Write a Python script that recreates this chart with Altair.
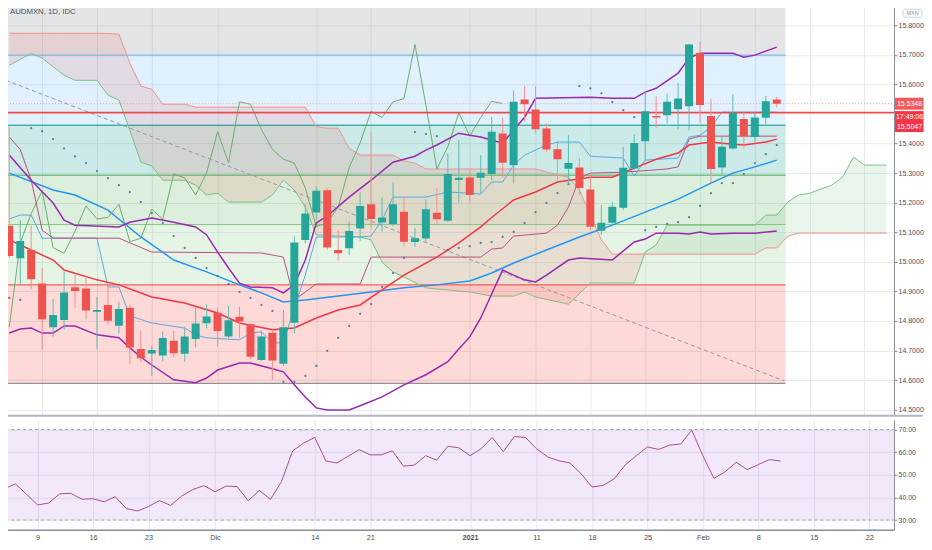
import altair as alt
import pandas as pd

# ---------------- data ----------------
bars = list(range(71))
opens = [15.122, 15.012, 15.040, 14.927, 14.779, 14.803, 14.914, 14.910, 14.831, 14.854,
         14.784, 14.845, 14.705, 14.690, 14.683, 14.733, 14.689, 14.739, 14.792, 14.828,
         14.747, 14.814, 14.789, 14.668, 14.760, 14.655, 14.794, 15.074, 15.167, 15.242,
         15.040, 15.046, 15.113, 15.195, 15.133, 15.128, 15.169, 15.067, 15.079, 15.166,
         15.139, 15.277, 15.285, 15.284, 15.297, 15.434, 15.327, 15.549, 15.515, 15.451,
         15.381, 15.315, 15.319, 15.245, 15.105, 15.132, 15.183, 15.316, 15.408, 15.493,
         15.496, 15.516, 15.526, 15.706, 15.493, 15.319, 15.383, 15.483, 15.422, 15.487,
         15.549]
highs = [15.455, 15.141, 15.122, 14.979, 14.874, 14.967, 14.955, 14.945, 14.882, 14.929,
         14.865, 14.856, 14.767, 14.716, 14.764, 14.766, 14.781, 14.848, 14.856, 14.845,
         14.851, 14.848, 14.792, 14.767, 14.770, 14.837, 15.088, 15.195, 15.256, 15.250,
         15.107, 15.138, 15.235, 15.440, 15.218, 15.269, 15.218, 15.115, 15.211, 15.250,
         15.367, 15.411, 15.312, 15.361, 15.490, 15.488, 15.580, 15.594, 15.594, 15.468,
         15.409, 15.428, 15.350, 15.301, 15.192, 15.203, 15.389, 15.432, 15.575, 15.560,
         15.569, 15.605, 15.738, 15.744, 15.552, 15.425, 15.567, 15.504, 15.504, 15.561,
         15.558]
lows = [15.013, 14.922, 14.908, 14.702, 14.747, 14.770, 14.843, 14.806, 14.704, 14.787,
        14.758, 14.654, 14.662, 14.614, 14.662, 14.677, 14.662, 14.711, 14.775, 14.713,
        14.742, 14.742, 14.671, 14.665, 14.601, 14.648, 14.758, 15.063, 15.141, 15.040,
        15.004, 15.023, 15.071, 15.113, 15.102, 15.121, 15.053, 15.051, 15.068, 15.124,
        15.136, 15.198, 15.198, 15.231, 15.276, 15.285, 15.265, 15.473, 15.434, 15.372,
        15.276, 15.265, 15.226, 15.107, 15.091, 15.119, 15.175, 15.310, 15.344, 15.453,
        15.468, 15.448, 15.445, 15.470, 15.267, 15.296, 15.378, 15.383, 15.406, 15.459,
        15.522]
closes = [15.020, 15.070, 14.941, 14.806, 14.820, 14.896, 14.901, 14.835, 14.837, 14.801,
          14.840, 14.710, 14.674, 14.702, 14.742, 14.691, 14.747, 14.791, 14.815, 14.766,
          14.802, 14.798, 14.679, 14.747, 14.666, 14.779, 15.065, 15.163, 15.240, 15.048,
          15.029, 15.104, 15.189, 15.145, 15.150, 15.195, 15.068, 15.080, 15.178, 15.144,
          15.297, 15.284, 15.226, 15.301, 15.440, 15.335, 15.541, 15.533, 15.448, 15.380,
          15.347, 15.334, 15.250, 15.119, 15.132, 15.186, 15.318, 15.402, 15.509, 15.488,
          15.541, 15.552, 15.735, 15.530, 15.314, 15.389, 15.504, 15.425, 15.488, 15.543,
          15.535]

# Ichimoku cloud (leading spans, plotted 26 bars ahead)
cloud_bars = list(range(81))
span_a = [15.665, 15.685, 15.705, 15.689, 15.660, 15.631, 15.614, 15.614, 15.614, 15.564,
          15.547, 15.445, 15.337, 15.324, 15.276, 15.276, 15.276, 15.259, 15.226, 15.232,
          15.202, 15.202, 15.202, 15.202, 15.226, 15.276, 15.243, 15.185, 15.091, 15.089,
          15.087, 15.086, 15.084, 15.074, 14.999, 14.966, 14.949, 14.930, 14.912, 14.908,
          14.905, 14.901, 14.898, 14.891, 14.884, 14.884, 14.884, 14.898, 14.881, 14.873,
          14.865, 14.857, 14.892, 14.928, 14.928, 14.928, 14.928, 14.928, 15.033, 15.057,
          15.124, 15.124, 15.124, 15.124, 15.124, 15.124, 15.124, 15.124, 15.124, 15.158,
          15.158, 15.202, 15.226, 15.232, 15.246, 15.259, 15.286, 15.354, 15.327, 15.327,
          15.327]
span_b = [15.773, 15.773, 15.773, 15.773, 15.773, 15.773, 15.773, 15.773, 15.773, 15.772,
          15.770, 15.672, 15.594, 15.584, 15.533, 15.533, 15.533, 15.523, 15.523, 15.523,
          15.523, 15.523, 15.523, 15.523, 15.523, 15.523, 15.523, 15.523, 15.457, 15.452,
          15.452, 15.384, 15.361, 15.361, 15.361, 15.361, 15.341, 15.334, 15.314, 15.314,
          15.314, 15.314, 15.314, 15.314, 15.314, 15.314, 15.314, 15.314, 15.314, 15.304,
          15.295, 15.286, 15.243, 15.158, 15.074, 15.026, 15.026, 15.026, 15.026, 15.026,
          15.026, 15.026, 15.026, 15.026, 15.026, 15.026, 15.026, 15.026, 15.026, 15.047,
          15.047, 15.087, 15.097, 15.097, 15.097, 15.097, 15.097, 15.097, 15.097, 15.097,
          15.097]

tenkan_bars = [0, 1, 2, 3, 8, 9, 10, 11, 13, 16, 17, 18, 21, 22, 23, 24, 25, 26, 27, 28,
               32, 33, 34, 35, 38, 40, 42, 43, 44, 45, 46, 47, 48, 49, 50, 52, 53, 56, 57, 58,
               61, 62, 63, 64, 65, 70]
tenkan_vals = [15.145, 15.158, 15.158, 15.080, 15.080, 14.915, 14.915, 14.817, 14.793, 14.776,
               14.753, 14.743, 14.736, 14.759, 14.763, 14.726, 14.726, 14.844, 14.955, 15.084,
               15.084, 15.087, 15.141, 15.219, 15.219, 15.236, 15.232, 15.229, 15.270, 15.270,
               15.327, 15.361, 15.378, 15.395, 15.405, 15.405, 15.357, 15.351, 15.290, 15.344,
               15.351, 15.422, 15.428, 15.455, 15.506, 15.506]
kijun_bars = [0, 1, 2, 3, 4, 10, 11, 13, 23, 24, 25, 26, 27, 28, 32, 33, 43, 44, 45, 46,
              49, 50, 51, 52, 53, 56, 60, 61, 62, 63, 70]
kijun_vals = [15.422, 15.380, 15.276, 15.107, 15.080, 15.080, 15.064, 15.033, 15.030, 15.023,
              15.016, 14.871, 14.898, 14.925, 14.925, 15.016, 15.016, 15.043, 15.047, 15.087,
              15.097, 15.124, 15.185, 15.283, 15.300, 15.303, 15.314, 15.321, 15.415, 15.425,
              15.425]

bb_up_bars = [0, 2, 4, 5, 6, 10, 11, 13, 15, 17, 18, 19, 20, 21, 22, 24, 25, 26, 27, 28,
              29, 31, 33, 35, 37, 38, 39, 41, 42, 43, 45, 47, 48, 53, 55, 57, 58, 59, 61, 62,
              63, 66, 67, 68, 70]
bb_up_vals = [15.361, 15.276, 15.199, 15.141, 15.124, 15.118, 15.134, 15.148, 15.134, 15.118,
              15.091, 15.033, 14.979, 14.928, 14.915, 14.912, 14.895, 14.922, 15.006, 15.131,
              15.155, 15.219, 15.276, 15.337, 15.357, 15.378, 15.395, 15.435, 15.428, 15.422,
              15.401, 15.489, 15.553, 15.557, 15.553, 15.553, 15.574, 15.587, 15.638, 15.689,
              15.705, 15.705, 15.692, 15.699, 15.726]
bb_lo_bars = [0, 1, 2, 3, 4, 5, 6, 8, 10, 11, 12, 13, 15, 17, 18, 19, 21, 22, 24, 25,
              26, 27, 28, 29, 31, 32, 34, 36, 38, 40, 41, 42, 43, 44, 45, 46, 47, 48, 49, 51,
              52, 55, 57, 58, 59, 61, 62, 63, 64, 66, 68, 70]
bb_lo_vals = [14.759, 14.773, 14.776, 14.759, 14.759, 14.783, 14.783, 14.753, 14.743, 14.709,
              14.678, 14.651, 14.601, 14.591, 14.607, 14.634, 14.658, 14.658, 14.638, 14.628,
              14.584, 14.543, 14.506, 14.499, 14.499, 14.513, 14.543, 14.584, 14.618, 14.662,
              14.705, 14.746, 14.810, 14.891, 14.972, 14.955, 14.939, 14.932, 14.955, 15.006,
              15.013, 15.006, 15.067, 15.077, 15.097, 15.097, 15.094, 15.101, 15.094, 15.097,
              15.097, 15.104]

ma_red_bars = [0, 2, 4, 5, 8, 10, 13, 16, 19, 21, 24, 26, 28, 30, 32, 34, 36, 39, 41, 43,
               44, 46, 48, 50, 53, 55, 57, 59, 61, 62, 64, 65, 66, 67, 69, 70]
ma_red_vals = [15.074, 15.040, 15.006, 14.972, 14.939, 14.922, 14.881, 14.861, 14.827, 14.793,
               14.770, 14.776, 14.810, 14.837, 14.854, 14.905, 14.955, 15.016, 15.064, 15.118,
               15.150, 15.209, 15.236, 15.270, 15.286, 15.286, 15.317, 15.347, 15.368, 15.395,
               15.405, 15.401, 15.398, 15.395, 15.405, 15.415]
ma_blue_bars = [0, 4, 6, 9, 12, 15, 18, 21, 23, 25, 27, 30, 33, 36, 39, 42, 44, 46, 49, 52,
                55, 58, 61, 64, 66, 68, 70]
ma_blue_vals = [15.300, 15.243, 15.226, 15.175, 15.084, 15.006, 14.966, 14.922, 14.895, 14.864,
                14.871, 14.884, 14.898, 14.912, 14.922, 14.935, 14.962, 14.996, 15.040, 15.084,
                15.124, 15.168, 15.212, 15.266, 15.300, 15.321, 15.344]

sar_vals = [14.878, 14.871, 15.452, 15.442, 15.415, 15.384, 15.357, 15.334, 15.307, 15.283,
            15.259, 15.236, 15.202, 15.165, 15.131, 15.087, 15.047, 15.013, 14.979, 14.952,
            14.925, 14.898, 14.878, 14.854, 14.834, 14.594, 14.594, 14.614, 14.648, 14.699,
            14.743, 14.783, 14.824, 14.857, 14.915, 14.962, 15.013, 15.439, 15.432, 15.425,
            15.040, 15.047, 15.053, 15.064, 15.067, 15.084, 15.101, 15.131, 15.168, 15.199,
            15.232, 15.263, 15.594, 15.587, 15.570, 15.540, 15.513, 15.489, 15.107, 15.118,
            15.128, 15.134, 15.151, 15.189, 15.232, 15.266, 15.266, 15.297, 15.334, 15.364,
            15.395]

rsi_vals = [43.8, 46.0, 41.4, 36.7, 37.5, 41.6, 41.8, 39.2, 39.4, 38.1,
            40.3, 35.1, 34.0, 36.0, 38.6, 36.5, 40.6, 43.5, 45.2, 42.5,
            45.0, 44.8, 38.5, 43.1, 39.1, 47.0, 60.5, 64.0, 66.5, 56.1,
            55.2, 58.2, 61.1, 58.8, 58.8, 60.6, 53.8, 54.3, 58.4, 56.5,
            62.6, 61.9, 58.4, 61.5, 66.5, 60.2, 66.9, 66.5, 61.5, 57.9,
            56.2, 55.2, 50.6, 44.6, 45.3, 48.2, 54.4, 58.4, 62.3, 61.2,
            63.1, 63.6, 69.7, 58.4, 48.4, 51.3, 55.5, 52.3, 54.5, 56.7,
            56.1]

# Fibonacci retracement drawing (0 -> 1) and dashed trend line
fib_levels = [14.589, 14.922, 15.126, 15.293, 15.462, 15.699, 16.000]
fib_colors = ["#787b86", "#f44336", "#81c784", "#4caf50", "#009688", "#64b5f6", "#787b86"]
fib_start, fib_end = -1.0, 70.8
trend_bars = [-0.3, 70.7]
trend_vals = [15.614, 14.597]

last_price = 15.5348
line_price = 15.5047
countdown = "17:49:06"
title_text = "AUDMXN, 1D, IDC"
currency = "MXN"

price_ticks = [14.5, 14.6, 14.7, 14.8, 14.9, 15.0, 15.1, 15.2, 15.3, 15.4, 15.6, 15.7, 15.8]
rsi_ticks = [30, 40, 50, 60, 70]
rsi_band = [30, 70]
tick_bars = [3, 8, 13, 19, 28, 33, 42, 48, 53, 58, 63, 68, 73, 78]
tick_labels = ["9", "16", "23", "Dic", "14", "21", "2021", "11", "18", "25", "Feb", "8", "15", "22"]

# ---------------- layout / style ----------------
W, H_MAIN, H_RSI = 894, 415, 110
X_DOMAIN = [-0.297, 80.24]
Y_DOMAIN = [14.4824, 15.8845]
R_DOMAIN = [25.74, 74.26]
FONT = "Liberation Sans"
GRID = "#e6eaf0"
AXC = "#8a8e98"
LBL = "#4a4e5a"
UP, DN = "#26a69a", "#ef5350"
UPW, DNW = "#5dbdb3", "#f3918e"
FS = 7.0

xs = alt.Scale(domain=X_DOMAIN, nice=False, zero=False)
ys = alt.Scale(domain=Y_DOMAIN, nice=False, zero=False)
rs = alt.Scale(domain=R_DOMAIN, nice=False, zero=False)

Y_AX = alt.Axis(orient="right", values=price_ticks, format=".4f", title=None, grid=True,
                gridColor=GRID, domainColor=AXC, tickColor=AXC, tickSize=3, labelPadding=1,
                labelFont=FONT, labelFontSize=FS, labelColor=LBL, labelOverlap=False,
                labelFlush=False)
X_AX_MAIN = alt.Axis(values=tick_bars, grid=True, gridColor=GRID, labels=False, ticks=False,
                     domain=False, title=None, minExtent=0, maxExtent=0)
R_AX = alt.Axis(orient="right", values=rsi_ticks, format=".2f", title=None, grid=True,
                gridColor=GRID, domainColor=AXC, tickColor=AXC, tickSize=3, labelPadding=1,
                labelFont=FONT, labelFontSize=FS, labelColor=LBL, labelOverlap=False,
                labelFlush=False)
lab_arr = "[" + ",".join("'%s'" % t for t in tick_labels) + "]"
bar_arr = "[" + ",".join(str(b) for b in tick_bars) + "]"
X_AX_RSI = alt.Axis(values=tick_bars, labelExpr="%s[indexof(%s, datum.value)]" % (lab_arr, bar_arr),
                    grid=True, gridColor=GRID, ticks=False, domain=True, domainColor=AXC,
                    domainWidth=1.5, title=None, labelFont=FONT, labelFontSize=7.3,
                    labelColor=LBL, labelPadding=4, labelOverlap=False, labelFlush=False,
                    labelFontWeight=alt.condition("datum.value == 42", alt.value("bold"), alt.value("normal")))


def xq(f):
    return alt.X(f + ":Q", scale=xs, axis=X_AX_MAIN)


def yq(f):
    return alt.Y(f + ":Q", scale=ys, axis=Y_AX)


def rx(f):
    return alt.X(f + ":Q", scale=xs, axis=X_AX_RSI)


def ry(f):
    return alt.Y(f + ":Q", scale=rs, axis=R_AX)


# ---------------- frames ----------------
candles = pd.DataFrame({"bar": bars, "open": opens, "high": highs, "low": lows, "close": closes})
candles["col"] = [UP if c >= o else DN for o, c in zip(opens, closes)]
candles["wcol"] = [UPW if c >= o else DNW for o, c in zip(opens, closes)]

bands = pd.DataFrame({"x0": fib_start, "x1": fib_end, "lo": fib_levels[:-1], "hi": fib_levels[1:],
                      "col": fib_colors[1:], "op": 0.2})
fibl = pd.DataFrame({"x0": fib_start, "x1": fib_end, "level": fib_levels, "lcol": fib_colors})

cloud = pd.DataFrame({"bar": cloud_bars, "A": span_a, "B": span_b})
cloud["lo"] = cloud[["A", "B"]].min(axis=1)
cloud["hi"] = cloud[["A", "B"]].max(axis=1)
red_cloud = cloud[cloud["bar"] <= 58]
green_cloud = cloud[cloud["bar"] >= 57]


def ser(name, xb, vals, color, width):
    return pd.DataFrame({"s": name, "bar": xb, "v": vals, "col": color, "w": width})


lines = pd.concat([
    ser("spanA", cloud_bars, span_a, "#7cbf7e", 1.0),
    ser("spanB", cloud_bars, span_b, "#f4918b", 1.0),
    ser("lag", [b - 25 for b in bars[25:]], closes[25:], "#6aae6c", 1.0),
    ser("tenkan", tenkan_bars, tenkan_vals, "#5aa9e6", 1.0),
    ser("kijun", kijun_bars, kijun_vals, "#bf4d80", 1.0),
    ser("ma_blue", ma_blue_bars, ma_blue_vals, "#2196f3", 1.5),
    ser("ma_red", ma_red_bars, ma_red_vals, "#f23645", 1.5),
    ser("bb_up", bb_up_bars, bb_up_vals, "#9c27b0", 1.5),
    ser("bb_lo", bb_lo_bars, bb_lo_vals, "#9c27b0", 1.5),
], ignore_index=True)

trend = pd.DataFrame({"bar": trend_bars, "v": trend_vals})
sar = pd.DataFrame({"bar": bars, "v": sar_vals})
one = pd.DataFrame({"k": [0]})
plines = pd.DataFrame({"p": [line_price]})
pdots = pd.DataFrame({"p": [last_price]})
labels = pd.DataFrame({"p": [last_price], "t": ["%.4f" % last_price]})
labels2 = pd.DataFrame({"p": [line_price], "t1": [countdown], "t2": ["%.4f" % line_price]})

# ---------------- main panel ----------------
L = []
L.append(alt.Chart(bands).mark_rect(clip=True).encode(
    x=xq("x0"), x2="x1", y=yq("lo"), y2="hi",
    color=alt.Color("col:N", scale=None), opacity=alt.Opacity("op:Q", scale=None)))
L.append(alt.Chart(red_cloud).mark_area(clip=True, color="#f44336", opacity=0.12).encode(
    x=xq("bar"), y=yq("B"), y2="lo"))
L.append(alt.Chart(green_cloud).mark_area(clip=True, color="#43a047", opacity=0.11).encode(
    x=xq("bar"), y=yq("hi"), y2="B"))
L.append(alt.Chart(fibl).mark_rule(clip=True, strokeWidth=1).encode(
    x=xq("x0"), x2="x1", y=yq("level"), color=alt.Color("lcol:N", scale=None)))
L.append(alt.Chart(trend).mark_line(clip=True, strokeDash=[4, 3], color="#9598a1", strokeWidth=1).encode(
    x=xq("bar"), y=yq("v")))
L.append(alt.Chart(lines).mark_line(clip=True).encode(
    x=xq("bar"), y=yq("v"), detail="s:N", order="bar:Q",
    color=alt.Color("col:N", scale=None), strokeWidth=alt.StrokeWidth("w:Q", scale=None)))
L.append(alt.Chart(pdots).mark_rule(strokeDash=[1, 2], color="#f29b98", strokeWidth=1).encode(
    x=alt.value(0), x2=alt.value(W), y=yq("p")))
L.append(alt.Chart(plines).mark_rule(color="#ef4a4a", strokeWidth=1.6).encode(
    x=alt.value(0), x2=alt.value(W), y=yq("p")))
L.append(alt.Chart(sar).mark_circle(clip=True, size=5, color="#3f6fa6", opacity=0.9).encode(
    x=xq("bar"), y=yq("v")))
L.append(alt.Chart(candles).mark_rule(clip=True, strokeWidth=1).encode(
    x=xq("bar"), y=yq("low"), y2="high", color=alt.Color("wcol:N", scale=None)))
L.append(alt.Chart(candles).mark_bar(clip=True, size=8).encode(
    x=xq("bar"), y=yq("open"), y2="close", color=alt.Color("col:N", scale=None)))
# title
L.append(alt.Chart(pd.DataFrame({"t": [title_text]})).mark_text(
    align="left", baseline="middle", font=FONT, fontSize=7.8, color="#50535e").encode(
    x=alt.value(9), y=alt.value(12), text="t:N"))
# currency badge
L.append(alt.Chart(one).mark_rect(fill="white", stroke="#d1d4dc", strokeWidth=1, cornerRadius=2).encode(
    x=alt.value(903), x2=alt.value(922), y=alt.value(9), y2=alt.value(17)))
L.append(alt.Chart(pd.DataFrame({"t": [currency]})).mark_text(
    align="center", baseline="middle", font=FONT, fontSize=5.5, color="#8a8e98").encode(
    x=alt.value(912.5), y=alt.value(13), text="t:N"))
# price boxes
L.append(alt.Chart(labels).mark_rect(color="#f05a5a", yOffset=-6, y2Offset=6).encode(
    x=alt.value(895), x2=alt.value(923.5), y=yq("p"), y2="p"))
L.append(alt.Chart(labels2).mark_rect(color="#f23645", yOffset=-1.5, y2Offset=19.5).encode(
    x=alt.value(895), x2=alt.value(923.5), y=yq("p"), y2="p"))
L.append(alt.Chart(labels).mark_text(align="center", baseline="middle", font=FONT, fontSize=FS,
                                     color="white").encode(x=alt.value(909.5), y=yq("p"), text="t:N"))
L.append(alt.Chart(labels2).mark_text(align="center", baseline="middle", font=FONT, fontSize=FS,
                                      color="white", dy=4.5).encode(x=alt.value(909.5), y=yq("p"), text="t1:N"))
L.append(alt.Chart(labels2).mark_text(align="center", baseline="middle", font=FONT, fontSize=FS,
                                      color="white", dy=14.5).encode(x=alt.value(909.5), y=yq("p"), text="t2:N"))
# panel separator
L.append(alt.Chart(one).mark_rule(color="#b4b7bf", strokeWidth=2).encode(
    x=alt.value(0), x2=alt.value(922.5), y=alt.value(H_MAIN + 1)))

main = alt.layer(*L).properties(width=W, height=H_MAIN)

# ---------------- RSI panel ----------------
rsi_df = pd.DataFrame({"bar": bars, "rsi": rsi_vals})
band_df = pd.DataFrame({"x0": [-1.0], "x1": [82.0], "lo": [rsi_band[0]], "hi": [rsi_band[1]]})
dash_df = pd.DataFrame({"x0": [-1.0, -1.0], "x1": [82.0, 82.0], "level": rsi_band})
R = [
    alt.Chart(band_df).mark_rect(clip=True, color="#9e3fd6", opacity=0.12).encode(
        x=rx("x0"), x2="x1", y=ry("lo"), y2="hi"),
    alt.Chart(dash_df).mark_rule(clip=True, strokeDash=[3, 3], color="#a5a7b1", strokeWidth=1).encode(
        x=rx("x0"), x2="x1", y=ry("level")),
    alt.Chart(rsi_df).mark_line(clip=True, color="#a8508b", strokeWidth=1).encode(
        x=rx("bar"), y=ry("rsi")),
]
rsi = alt.layer(*R).properties(width=W, height=H_RSI)

chart = alt.vconcat(main, rsi, spacing=3).properties(
    background="white",
    padding={"left": -8, "top": -8, "right": 0, "bottom": 0},
).configure_view(stroke=None)

chart.save("out.html", embed_options={"renderer": "svg", "actions": False})
